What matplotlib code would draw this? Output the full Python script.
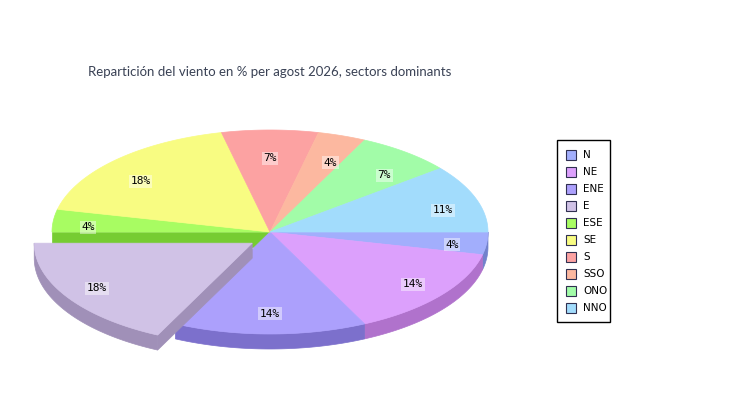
import numpy as np
import matplotlib
matplotlib.use("Agg")
import matplotlib.pyplot as plt
from matplotlib.patches import Polygon, Rectangle

# wind sectors and counts (percent labels come from these)
sectors = ["N", "NE", "ENE", "E", "ESE", "SE", "S", "SSO", "ONO", "NNO"]
counts = [1, 4, 4, 5, 1, 5, 2, 1, 2, 3]
top_colors = ["#a2aefc", "#dca0fc", "#aca0fc", "#d0c2e6", "#a8fc62",
              "#f8fc82", "#fca2a2", "#fcb8a0", "#a2fca8", "#a2dcfc"]
side_colors = ["#7282cc", "#b072cc", "#7c70cc", "#a090b8", "#76cc32",
               "#c8cc52", "#cc7272", "#cc8870", "#72cc78", "#72acd0"]
exploded = "E"
title = "Repartición del viento en % per agost 2026, sectors dominants"

cx, cy = 270, 232
rx, ry = 218, 102
depth = 15
explode_r = 21

fig = plt.figure(figsize=(7.5, 4), dpi=100)
ax = fig.add_axes([0, 0, 1, 1])
ax.set_xlim(0, 750)
ax.set_ylim(400, 0)
ax.axis("off")

vals = np.array(counts, dtype=float)
angles = np.concatenate([[0], np.cumsum(vals) / vals.sum() * 360])


def rim(t, ox=0, oy=0, dz=0):
    t = np.radians(t)
    return cx + ox + rx * np.cos(t), cy + oy + ry * np.sin(t) + dz


def side_poly(a1, a2, ox, oy, color):
    lo, hi = max(a1, 0), min(a2, 180)
    if hi <= lo:
        return
    t = np.linspace(lo, hi, 60)
    x, y = rim(t, ox, oy)
    xs = np.concatenate([x, x[::-1]])
    ys = np.concatenate([y, (y + depth)[::-1]])
    ax.add_patch(Polygon(np.column_stack([xs, ys]), closed=True,
                         facecolor=color, edgecolor=color, lw=0.5))


def radial_face(a, ox, oy, color):
    x, y = rim(a, ox, oy)
    pts = [(cx + ox, cy + oy), (x, y), (x, y + depth), (cx + ox, cy + oy + depth)]
    ax.add_patch(Polygon(pts, closed=True, facecolor=color, edgecolor=color, lw=0.5))


def top_poly(a1, a2, ox, oy, color):
    t = np.linspace(a1, a2, 80)
    x, y = rim(t, ox, oy)
    pts = np.column_stack([np.concatenate([[cx + ox], x]),
                           np.concatenate([[cy + oy], y])])
    ax.add_patch(Polygon(pts, closed=True, facecolor=color, edgecolor=color, lw=0.5))


offsets = []
for i, s in enumerate(sectors):
    if s == exploded:
        mid = np.radians((angles[i] + angles[i + 1]) / 2)
        offsets.append((explode_r * np.cos(mid), explode_r * np.sin(mid)))
    else:
        offsets.append((0, 0))

ex = sectors.index(exploded)

# back pie: sides then tops
for i in range(len(sectors)):
    if i == ex:
        continue
    side_poly(angles[i], angles[i + 1], 0, 0, side_colors[i])
# face of the slice after the exploded one, left open by the gap
radial_face(angles[ex + 1], 0, 0, side_colors[ex + 1])
for i in range(len(sectors)):
    if i == ex:
        continue
    top_poly(angles[i], angles[i + 1], 0, 0, top_colors[i])

# exploded slice in front
ox, oy = offsets[ex]
side_poly(angles[ex], angles[ex + 1], ox, oy, side_colors[ex])
radial_face(angles[ex], ox, oy, side_colors[ex])
top_poly(angles[ex], angles[ex + 1], ox, oy, top_colors[ex])

# percentage labels
for i in range(len(sectors)):
    mid = np.radians((angles[i] + angles[i + 1]) / 2)
    ox, oy = offsets[i]
    lx = cx + ox + 0.84 * rx * np.cos(mid)
    ly = cy + oy + 0.76 * ry * np.sin(mid) + 4
    pct = round(100 * vals[i] / vals.sum())
    ax.text(lx, ly, "%d%%" % pct, ha="center", va="center", fontsize=8,
            family="DejaVu Sans Mono", color="black",
            bbox=dict(boxstyle="square,pad=0.15", facecolor="white",
                      edgecolor="none", alpha=0.45))

ax.text(cx, 72, title, ha="center", va="center", fontsize=9.5,
        family="Lato", color="#3a4255")

# legend
lx0, ly0, lw, lh = 557, 140, 53, 182
ax.add_patch(Rectangle((lx0, ly0), lw, lh, facecolor="white",
                       edgecolor="black", lw=1))
for i, s in enumerate(sectors):
    yy = 155 + 17 * i
    ax.add_patch(Rectangle((566, yy - 5), 10, 10, facecolor=top_colors[i],
                           edgecolor="#303050", lw=0.8))
    ax.text(583, yy, s, ha="left", va="center", fontsize=7.5,
            family="DejaVu Sans", color="black")

fig.savefig("out.png", dpi=100)
